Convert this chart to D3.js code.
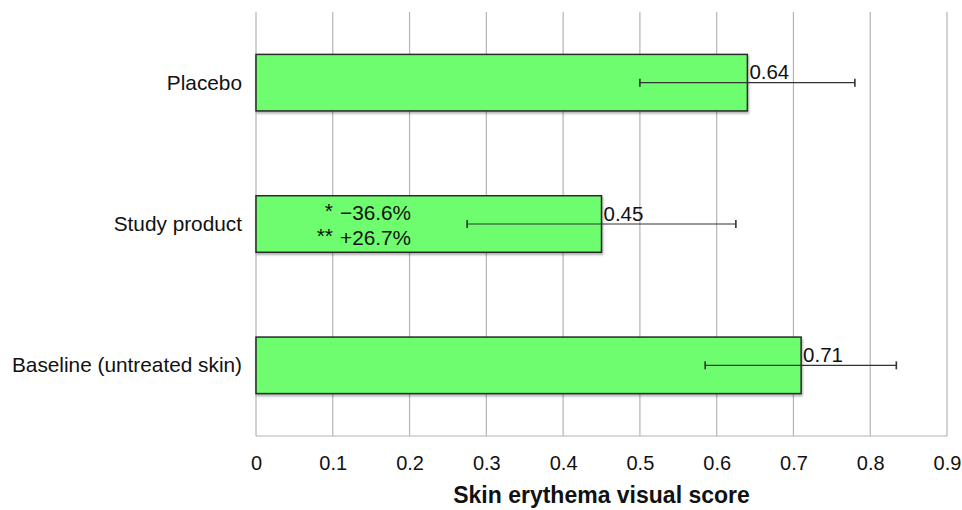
<!DOCTYPE html>
<html>
<head>
<meta charset="utf-8">
<script src="https://cdn.jsdelivr.net/npm/d3@7"></script>
<style>
  html, body { margin: 0; padding: 0; background: #fff; }
  svg { display: block; font-family: "Liberation Sans", Arial, sans-serif; }
</style>
</head>
<body>
<svg id="chart" width="962" height="510"></svg>
<script>
const categories = ["Placebo", "Study product", "Baseline (untreated skin)"];
const values = [0.64, 0.45, 0.71];
const errLow = [0.50, 0.275, 0.585];
const errHigh = [0.78, 0.625, 0.834];
const valueLabels = ["0.64", "0.45", "0.71"];
const tickValues = [0, 0.1, 0.2, 0.3, 0.4, 0.5, 0.6, 0.7, 0.8, 0.9];
const tickLabels = ["0", "0.1", "0.2", "0.3", "0.4", "0.5", "0.6", "0.7", "0.8", "0.9"];
const annotStars = ["*", "**"];
const annotTexts = ["\u221236.6%", "+26.7%"];
const annotCategory = "Study product";
const xTitle = "Skin erythema visual score";

const svg = d3.select("#chart");
const x = d3.scaleLinear().domain([0, 0.9]).range([256, 947]);
const y = d3.scaleBand().domain(categories).range([12, 436]).padding(0);
const barH = y.bandwidth() * 0.4;

// gridlines
svg.append("g").selectAll("line").data(tickValues).join("line")
  .attr("x1", d => x(d)).attr("x2", d => x(d))
  .attr("y1", 12).attr("y2", 436)
  .attr("stroke", "#b4b4b4").attr("stroke-width", 1.2);
svg.append("line")
  .attr("x1", x(0)).attr("x2", x(0.9)).attr("y1", 436).attr("y2", 436)
  .attr("stroke", "#b4b4b4").attr("stroke-width", 1.2);

// x tick labels
const xAxis = d3.axisBottom(x).tickValues(tickValues)
  .tickFormat((d, i) => tickLabels[i]).tickSize(0).tickPadding(0);
const gx = svg.append("g").attr("transform", "translate(0,456)").call(xAxis);
gx.select(".domain").remove();
gx.selectAll("text").attr("font-size", 20).attr("fill", "#111")
  .attr("font-family", "Liberation Sans, Arial, sans-serif");

// axis title
svg.append("text").attr("x", (x(0) + x(0.9)) / 2).attr("y", 503)
  .attr("text-anchor", "middle").attr("font-size", 23).attr("font-weight", "bold")
  .attr("fill", "#111").text(xTitle);

// defs shadow
const defs = svg.append("defs");
const f = defs.append("filter").attr("id", "sh").attr("x", "-5%").attr("y", "-20%").attr("width", "110%").attr("height", "150%");
f.append("feDropShadow").attr("dx", 1).attr("dy", 2).attr("stdDeviation", 1.2).attr("flood-color", "#000").attr("flood-opacity", 0.3);

const rows = categories.map((c, i) => ({ c, v: values[i], lo: errLow[i], hi: errHigh[i], lab: valueLabels[i] }));

// bars
svg.append("g").selectAll("rect").data(rows).join("rect")
  .attr("x", x(0))
  .attr("y", d => y(d.c) + (y.bandwidth() - barH) / 2)
  .attr("width", d => x(d.v) - x(0))
  .attr("height", barH)
  .attr("fill", "#6efd6e")
  .attr("stroke", "#2a2a2a").attr("stroke-width", 1.5)
  .attr("filter", "url(#sh)");

// error bars
const eb = svg.append("g").attr("stroke", "#333").attr("stroke-width", 1.2);
rows.forEach(d => {
  const cy = y(d.c) + y.bandwidth() / 2;
  eb.append("line").attr("x1", x(d.lo)).attr("x2", x(d.hi)).attr("y1", cy).attr("y2", cy);
  eb.append("line").attr("x1", x(d.lo)).attr("x2", x(d.lo)).attr("y1", cy - 4).attr("y2", cy + 4).attr("stroke-width", 1.6);
  eb.append("line").attr("x1", x(d.hi)).attr("x2", x(d.hi)).attr("y1", cy - 4).attr("y2", cy + 4).attr("stroke-width", 1.6);
});

// value labels
svg.append("g").selectAll("text").data(rows).join("text")
  .attr("x", d => x(d.v) + 2)
  .attr("y", d => y(d.c) + (y.bandwidth() - barH) / 2 + 25)
  .attr("font-size", 20.5).attr("fill", "#111")
  .text(d => d.lab);

// category labels
svg.append("g").selectAll("text").data(categories).join("text")
  .attr("x", 242)
  .attr("y", d => y(d) + y.bandwidth() / 2 + 7)
  .attr("text-anchor", "end").attr("font-size", 20.8).attr("fill", "#111")
  .text(d => d);

// annotations in study bar
const ay = y(annotCategory) + (y.bandwidth() - barH) / 2;
annotStars.forEach((s, i) => {
  svg.append("text").attr("x", 333).attr("y", ay + 24 + i * 25 - 2)
    .attr("text-anchor", "end").attr("font-size", 21).attr("fill", "#111").text(s);
  svg.append("text").attr("x", 340).attr("y", ay + 24 + i * 25)
    .attr("font-size", 20.8).attr("fill", "#111").text(annotTexts[i]);
});
</script>
</body>
</html>
